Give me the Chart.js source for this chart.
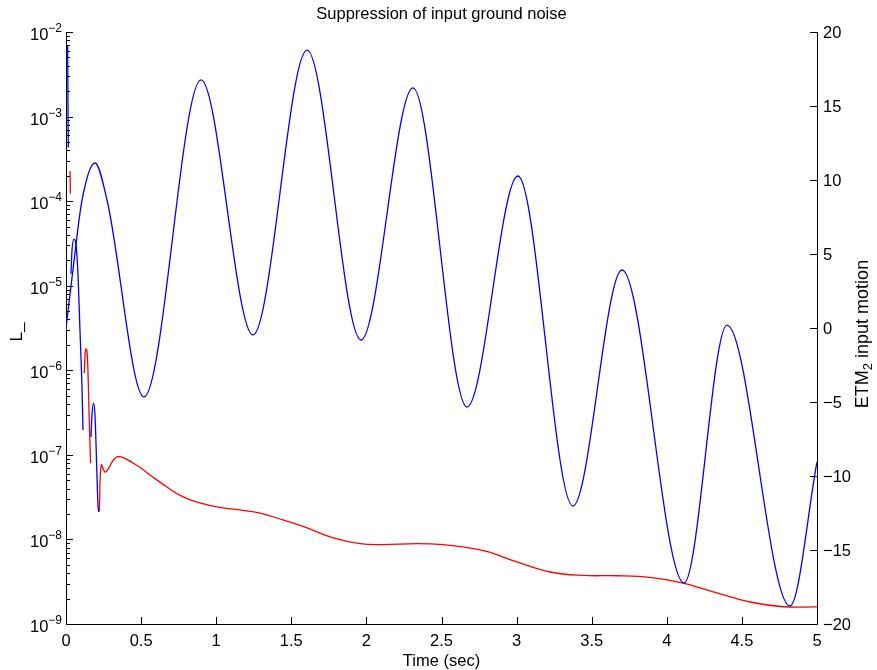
<!DOCTYPE html>
<html>
<head>
<meta charset="utf-8">
<script src="https://cdn.jsdelivr.net/npm/chart.js@4/dist/chart.umd.min.js"></script>
<style>
  html, body { margin: 0; padding: 0; background: #fff; }
  #wrap { width: 877px; height: 670px; }
</style>
</head>
<body>
<div id="wrap"><canvas id="chart"></canvas></div>
<script>
const titleText = 'Suppression of input ground noise';
const timeTicks = [0, 0.5, 1, 1.5, 2, 2.5, 3, 3.5, 4, 4.5, 5];
const decadeExps = [-9, -8, -7, -6, -5, -4, -3, -2];
const motionTicks = [-20, -15, -10, -5, 0, 5, 10, 15, 20];

// ETM2 input motion (right axis)
const motionT = [0, 0.053, 0.107, 0.193, 0.273, 0.519, 0.899, 1.245, 1.605, 1.964, 2.310, 2.670,
  3.009, 3.375, 3.702, 4.115, 4.401, 4.820, 5.0];
const motionV = [0, 4.5, 8.65, 11.15, 8.65, -4.66, 16.76, -0.47, 18.78, -0.81, 16.22, -5.34,
  10.27, -12.03, 3.92, -17.23, 0.2, -18.78, -9.05];

// L_ (left axis, log) - blue pieces, null = gap
const blueLT = [0.011, 0.015, 0.02,
  0.033, 0.040, 0.053, 0.067, 0.080, 0.093, 0.107, 0.113, 0.14,
  0.166, 0.173, 0.183, 0.193, 0.200, 0.207, 0.213, 0.218];
const blueLV = [7.0e-3, 4.3e-4, null,
  1.38e-5, 2.64e-5, 3.56e-5, 3.03e-5, 1.34e-5, 2.99e-6, 5.84e-7, 1.97e-7, null,
  1.63e-7, 2.96e-7, 4.1e-7, 2.96e-7, 1.31e-7, 5.05e-8, 2.55e-8, 2.11e-8];

// L_ (left axis, log) - red pieces
const redLT = [0.027, 0.029, 0.06,
  0.122, 0.127, 0.133, 0.140, 0.147, 0.153, 0.160, 0.164, 0.19,
  0.222, 0.235, 0.263, 0.340, 0.446, 0.559, 0.672, 0.779, 0.892, 1.005, 1.158, 1.292,
  1.445, 1.605, 1.778, 1.957, 2.110, 2.337, 2.510, 2.650, 2.800, 3.003, 3.222, 3.442,
  3.668, 3.888, 4.108, 4.334, 4.554, 4.774, 5.0];
const redLV = [2.27e-4, 1.22e-4, null,
  9.3e-7, 1.52e-6, 1.79e-6, 1.65e-6, 8.8e-7, 3.39e-7, 1.31e-7, 8.0e-8, null,
  2.17e-8, 7.59e-8, 6.27e-8, 9.44e-8, 8.02e-8, 5.78e-8, 4.17e-8, 3.18e-8, 2.70e-8, 2.42e-8, 2.23e-8, 2.05e-8,
  1.70e-8, 1.37e-8, 1.04e-8, 8.9e-9, 8.7e-9, 8.9e-9, 8.7e-9, 8.1e-9, 7.2e-9, 5.41e-9, 4.12e-9, 3.75e-9,
  3.72e-9, 3.55e-9, 3.05e-9, 2.33e-9, 1.82e-9, 1.60e-9, 1.59e-9];

const toPoints = (ts, vs) => ts.map((t, i) => ({ x: t, y: vs[i] }));

const FONT = '"Liberation Sans", Arial, sans-serif';

const matlabAxes = {
  id: 'matlabAxes',
  beforeDatasetsDraw(chart) {
    const { ctx, chartArea: a, scales } = chart;
    const xs = scales.x, yl = scales.y, yr = scales.y2;
    ctx.save();
    ctx.strokeStyle = '#000';
    ctx.lineWidth = 1;
    ctx.beginPath();
    // axis lines
    ctx.moveTo(a.left + 0.5, a.top); ctx.lineTo(a.left + 0.5, a.bottom + 0.5);
    ctx.lineTo(a.right + 0.5, a.bottom + 0.5); ctx.lineTo(a.right + 0.5, a.top);
    // x ticks
    timeTicks.forEach(t => {
      const px = Math.round(xs.getPixelForValue(t)) + 0.5;
      ctx.moveTo(px, a.bottom); ctx.lineTo(px, a.bottom - 7);
    });
    // left log ticks
    decadeExps.forEach(e => {
      const py = Math.round(yl.getPixelForValue(Math.pow(10, e))) + 0.5;
      ctx.moveTo(a.left, py); ctx.lineTo(a.left + 7, py);
      if (e < -2) {
        for (let k = 2; k <= 9; k++) {
          const pm = Math.round(yl.getPixelForValue(k * Math.pow(10, e))) + 0.5;
          ctx.moveTo(a.left, pm); ctx.lineTo(a.left + 4, pm);
        }
      }
    });
    // right ticks
    motionTicks.forEach(v => {
      const py = Math.round(yr.getPixelForValue(v)) + 0.5;
      ctx.moveTo(a.right, py); ctx.lineTo(a.right - 7, py);
    });
    ctx.stroke();
    ctx.restore();
  },
  afterDraw(chart) {
    const { ctx, chartArea: a, scales } = chart;
    const xs = scales.x, yl = scales.y, yr = scales.y2;
    ctx.save();
    ctx.fillStyle = '#000';
    // x labels
    ctx.font = '16.5px ' + FONT;
    ctx.textAlign = 'center';
    ctx.textBaseline = 'alphabetic';
    timeTicks.forEach(t => {
      ctx.fillText(String(t), xs.getPixelForValue(t), a.bottom + 22);
    });
    // left labels 10^e
    decadeExps.forEach(e => {
      const py = yl.getPixelForValue(Math.pow(10, e));
      const exp = '\u2212' + Math.abs(e);
      ctx.font = '12px ' + FONT;
      ctx.textAlign = 'right';
      const ew = ctx.measureText(exp).width;
      ctx.fillText(exp, a.left - 4, py);
      ctx.font = '16.5px ' + FONT;
      ctx.fillText('10', a.left - 4 - ew, py + 8);
    });
    // right labels
    ctx.font = '16.5px ' + FONT;
    ctx.textAlign = 'left';
    motionTicks.forEach(v => {
      const label = v < 0 ? '\u2212' + Math.abs(v) : String(v);
      ctx.fillText(label, a.right + 6, yr.getPixelForValue(v) + 6);
    });
    // title and x label
    ctx.textAlign = 'center';
    ctx.fillText(titleText, (a.left + a.right) / 2, 19);
    ctx.fillText('Time (sec)', (a.left + a.right) / 2, 666);
    // left y label
    ctx.save();
    ctx.translate(22, 332);
    ctx.rotate(-Math.PI / 2);
    ctx.textAlign = 'center';
    ctx.font = '17px ' + FONT;
    ctx.fillText('L_', 0, 0);
    ctx.restore();
    // right y label with subscript
    ctx.save();
    ctx.translate(868, 334);
    ctx.rotate(-Math.PI / 2);
    ctx.textAlign = 'left';
    const p1 = 'ETM', p3 = ' input motion';
    ctx.font = '18px ' + FONT;
    const w1 = ctx.measureText(p1).width, w3 = ctx.measureText(p3).width;
    ctx.font = '13px ' + FONT;
    const w2 = ctx.measureText('2').width;
    const x0 = -(w1 + w2 + w3) / 2;
    ctx.font = '18px ' + FONT;
    ctx.fillText(p1, x0, 0);
    ctx.font = '13px ' + FONT;
    ctx.fillText('2', x0 + w1, 4);
    ctx.font = '18px ' + FONT;
    ctx.fillText(p3, x0 + w1 + w2, 0);
    ctx.restore();
    ctx.restore();
  }
};

new Chart(document.getElementById('chart').getContext('2d'), {
  type: 'line',
  data: {
    datasets: [
      {
        label: 'ETM2 input motion',
        data: toPoints(motionT, motionV),
        yAxisID: 'y2',
        borderColor: '#0000ff',
        borderWidth: 1.3,
        pointRadius: 0,
        cubicInterpolationMode: 'monotone',
      },
      {
        label: 'L_ blue',
        data: toPoints(blueLT, blueLV),
        yAxisID: 'y',
        borderColor: '#0000ff',
        borderWidth: 1.3,
        pointRadius: 0,
        spanGaps: false,
        cubicInterpolationMode: 'monotone',
      },
      {
        label: 'L_ red',
        data: toPoints(redLT, redLV),
        yAxisID: 'y',
        borderColor: '#ff0000',
        borderWidth: 1.3,
        pointRadius: 0,
        spanGaps: false,
        tension: 0.4,
      },
    ],
  },
  options: {
    responsive: true,
    maintainAspectRatio: false,
    animation: false,
    layout: { padding: { left: 66, right: 60, top: 32, bottom: 46 } },
    scales: {
      x: { type: 'linear', min: 0, max: 5, display: false },
      y: { type: 'logarithmic', min: 1e-9, max: 1e-2, display: false },
      y2: { type: 'linear', min: -20, max: 20, display: false, position: 'right' },
    },
    plugins: {
      legend: { display: false },
      tooltip: { enabled: false },
    },
  },
  plugins: [matlabAxes],
});
</script>
</body>
</html>
